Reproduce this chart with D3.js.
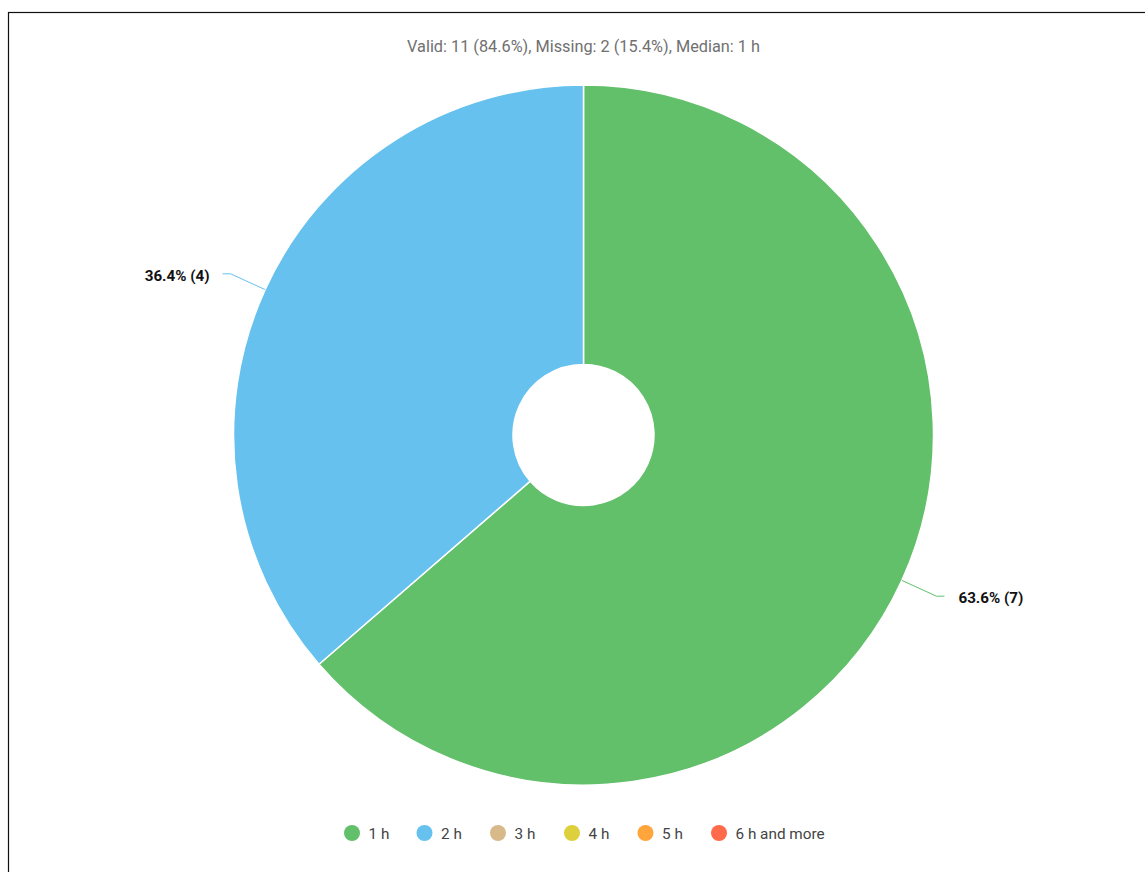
<!DOCTYPE html>
<html>
<head>
<meta charset="utf-8">
<script src="https://cdn.jsdelivr.net/npm/d3@7"></script>
<style>
  html, body { margin: 0; padding: 0; background: #fff; }
  svg { display: block; font-family: Roboto, "Noto Sans", sans-serif; }
</style>
</head>
<body>
<svg id="chart" width="1145" height="872"></svg>
<script>
const categories = ["1 h", "2 h", "3 h", "4 h", "5 h", "6 h and more"];
const counts = [7, 4, 0, 0, 0, 0];
const percents = ["63.6%", "36.4%", "0%", "0%", "0%", "0%"];
const colors = ["#62bf6a", "#66c1ef", "#d7b98a", "#ddd03c", "#ffa53b", "#ff6a4a"];
const subtitle = "Valid: 11 (84.6%), Missing: 2 (15.4%), Median: 1 h";

const svg = d3.select("#chart");
const W = 1145, H = 872;

// frame
svg.append("rect").attr("x", 8.5).attr("y", 12.5).attr("width", W + 20).attr("height", H + 20)
  .attr("fill", "none").attr("stroke", "#111").attr("stroke-width", 1.2);

svg.append("text").attr("x", 583.5).attr("y", 51.5).attr("text-anchor", "middle")
  .attr("font-size", 16.3).attr("fill", "#707070").text(subtitle);

const cx = 583.5, cy = 435, R = 350, r0 = 70.5;
const data = categories.map((c, i) => ({ cat: c, value: counts[i], pct: percents[i], color: colors[i] }));
const pie = d3.pie().value(d => d.value).sort(null);
const arcs = pie(data).filter(a => a.data.value > 0);
const arc = d3.arc().innerRadius(r0).outerRadius(R);

const g = svg.append("g").attr("transform", `translate(${cx},${cy})`);
g.selectAll("path.slice").data(arcs).join("path")
  .attr("class", "slice")
  .attr("d", arc)
  .attr("fill", d => d.data.color)
  .attr("stroke", "#fff").attr("stroke-width", 1.5).attr("stroke-linejoin", "round");

// labels with leader lines
const pt = (a, rr) => [rr * Math.sin(a), -rr * Math.cos(a)];
arcs.forEach(a => {
  const mid = (a.startAngle + a.endAngle) / 2;
  const p1 = pt(mid, R);
  const p2 = pt(mid, R + 38);
  const right = Math.sin(mid) > 0;
  const p3 = [p2[0] + (right ? 8 : -8), p2[1]];
  g.append("polyline")
    .attr("points", [p1, p2, p3].map(p => p.join(",")).join(" "))
    .attr("fill", "none").attr("stroke", a.data.color).attr("stroke-width", 1);
  g.append("text")
    .attr("x", p3[0] + (right ? 14 : -13)).attr("y", p3[1] + 7)
    .attr("text-anchor", right ? "start" : "end")
    .attr("font-size", 15.2).attr("font-weight", "bold").attr("fill", "#111")
    .text(`${a.data.pct} (${a.data.value})`);
});

// legend
const legendX = [352, 424.5, 498, 572, 645.5, 719];
const lg = svg.append("g");
data.forEach((d, i) => {
  lg.append("circle").attr("cx", legendX[i]).attr("cy", 833).attr("r", 8).attr("fill", d.color);
  lg.append("text").attr("x", legendX[i] + 16.5).attr("y", 839)
    .attr("font-size", 15.3).attr("fill", "#444").text(d.cat);
});
</script>
</body>
</html>
